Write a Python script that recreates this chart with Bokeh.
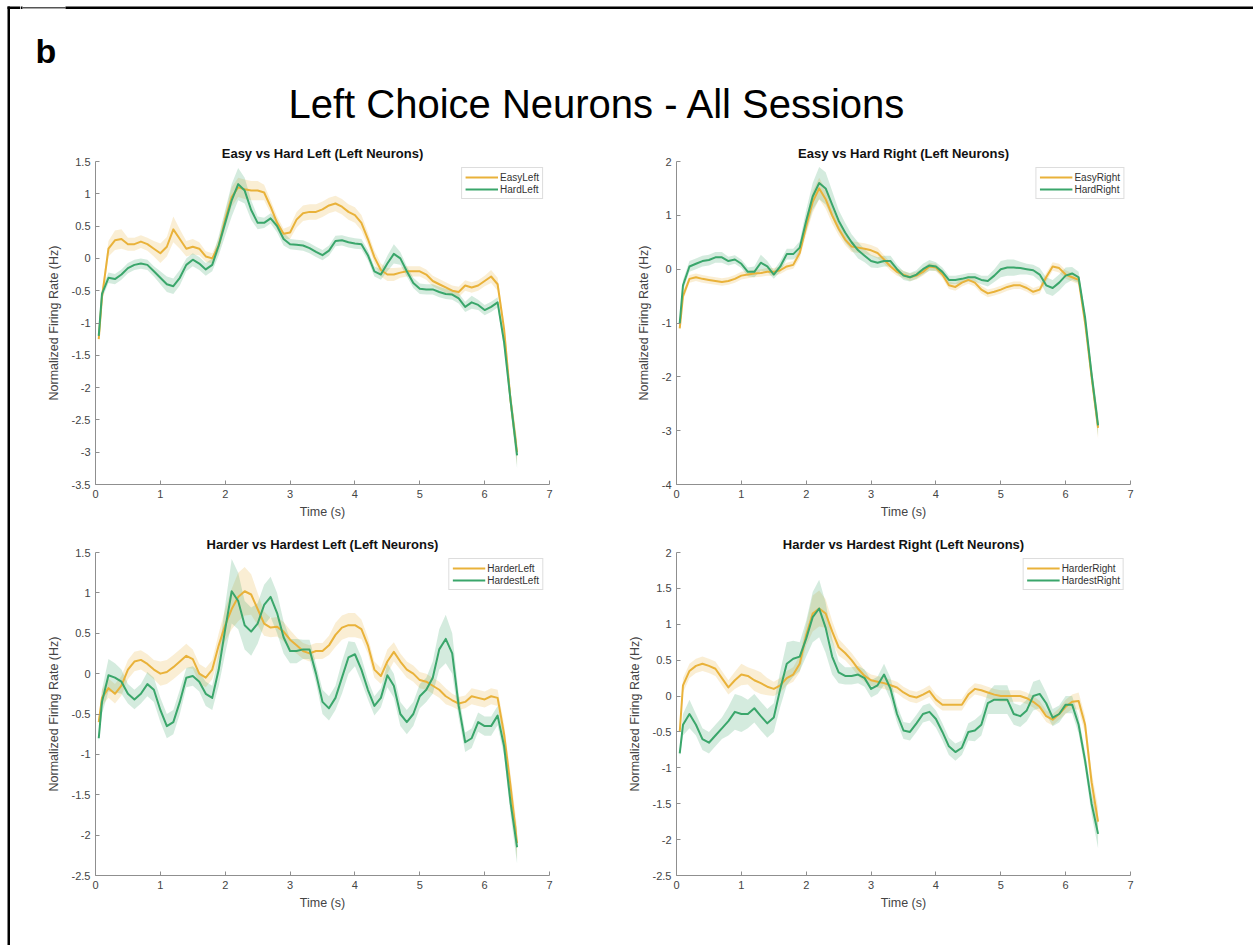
from bokeh.plotting import figure
from bokeh.models import Range1d, FixedTicker
from bokeh.layouts import column, row
from bokeh.embed import file_html
from bokeh.resources import INLINE
from bokeh.core.properties import value

FONT = "Liberation Sans"
ORANGE = "#E9B23A"
GREEN = "#3AA66B"

MAIN_TITLE = "Left Choice Neurons - All Sessions"
PANEL_LETTER = "b"
X_LABEL = "Time (s)"
Y_LABEL = "Normalized Firing Rate (Hz)"
X_TICKS = [0, 1, 2, 3, 4, 5, 6, 7]

TIME = [0.05, 0.1, 0.2, 0.3, 0.4, 0.5, 0.6, 0.7, 0.8, 0.9,
        1.0, 1.1, 1.2, 1.3, 1.4, 1.5, 1.6, 1.7, 1.8, 1.9,
        2.0, 2.1, 2.2, 2.3, 2.4, 2.5, 2.6, 2.7, 2.8, 2.9,
        3.0, 3.1, 3.2, 3.3, 3.4, 3.5, 3.6, 3.7, 3.8, 3.9,
        4.0, 4.1, 4.2, 4.3, 4.4, 4.5, 4.6, 4.7, 4.8, 4.9,
        5.0, 5.1, 5.2, 5.3, 5.4, 5.5, 5.6, 5.7, 5.8, 5.9,
        6.0, 6.1, 6.2, 6.3, 6.4, 6.5]

# ---- Panel 1: Easy vs Hard Left ----
easy_left = [-1.25, -0.6, 0.15, 0.28, 0.3, 0.22, 0.22, 0.26, 0.22, 0.15,
             0.08, 0.18, 0.45, 0.3, 0.15, 0.18, 0.15, 0.03, 0.0, 0.2,
             0.6, 0.95, 1.1, 1.07, 1.05, 1.05, 1.02, 0.8, 0.55, 0.38,
             0.4, 0.6, 0.7, 0.72, 0.72, 0.76, 0.82, 0.85, 0.8, 0.72,
             0.67, 0.55, 0.3, 0.02, -0.18, -0.25, -0.25, -0.22, -0.2, -0.2,
             -0.2, -0.25, -0.35, -0.4, -0.45, -0.5, -0.52, -0.42, -0.45, -0.42,
             -0.35, -0.28, -0.4, -1.1, -2.2, -3.0]
easy_left_sem = [0.05, 0.1, 0.12, 0.15, 0.15, 0.1, 0.1, 0.1, 0.1, 0.12,
                 0.15, 0.15, 0.2, 0.15, 0.12, 0.12, 0.1, 0.08, 0.08, 0.1,
                 0.12, 0.15, 0.15, 0.15, 0.15, 0.15, 0.12, 0.1, 0.1, 0.08,
                 0.1, 0.12, 0.12, 0.12, 0.12, 0.12, 0.12, 0.12, 0.12, 0.12,
                 0.12, 0.12, 0.1, 0.1, 0.1, 0.1, 0.1, 0.08, 0.08, 0.08,
                 0.08, 0.08, 0.08, 0.08, 0.08, 0.08, 0.08, 0.08, 0.08, 0.08,
                 0.08, 0.1, 0.1, 0.12, 0.15, 0.2]
hard_left = [-1.2, -0.55, -0.3, -0.32, -0.25, -0.15, -0.1, -0.08, -0.1, -0.2,
             -0.3, -0.4, -0.43, -0.3, -0.1, -0.02, -0.08, -0.17, -0.1, 0.2,
             0.55, 0.9, 1.15, 1.05, 0.75, 0.55, 0.55, 0.62, 0.5, 0.3,
             0.22, 0.21, 0.2, 0.16, 0.1, 0.05, 0.12, 0.27, 0.28, 0.25,
             0.23, 0.22, 0.05, -0.2, -0.25, -0.08, 0.07, 0.0, -0.2, -0.38,
             -0.47, -0.48, -0.48, -0.52, -0.55, -0.56, -0.62, -0.75, -0.68, -0.72,
             -0.8, -0.75, -0.68, -1.3, -2.2, -3.05]
hard_left_sem = [0.05, 0.08, 0.08, 0.08, 0.08, 0.08, 0.08, 0.08, 0.08, 0.08,
                 0.1, 0.12, 0.12, 0.12, 0.1, 0.1, 0.1, 0.1, 0.1, 0.15,
                 0.2, 0.25, 0.25, 0.2, 0.15, 0.1, 0.08, 0.08, 0.1, 0.1,
                 0.08, 0.08, 0.08, 0.08, 0.08, 0.08, 0.08, 0.08, 0.08, 0.08,
                 0.08, 0.08, 0.08, 0.08, 0.08, 0.12, 0.15, 0.1, 0.08, 0.08,
                 0.08, 0.08, 0.08, 0.08, 0.08, 0.08, 0.08, 0.08, 0.1, 0.08,
                 0.08, 0.08, 0.08, 0.1, 0.15, 0.2]

# ---- Panel 2: Easy vs Hard Right ----
easy_right = [-1.1, -0.5, -0.18, -0.15, -0.18, -0.2, -0.22, -0.24, -0.22, -0.18,
              -0.12, -0.1, -0.08, -0.07, -0.05, -0.05, -0.02, 0.05, 0.08, 0.3,
              0.8, 1.25, 1.5, 1.3, 1.0, 0.75, 0.55, 0.42, 0.4, 0.38,
              0.35, 0.3, 0.18, 0.05, -0.05, -0.1, -0.15, -0.12, -0.05, 0.05,
              0.03, -0.1, -0.3, -0.33, -0.25, -0.2, -0.25, -0.38, -0.45, -0.42,
              -0.38, -0.33, -0.3, -0.3, -0.35, -0.42, -0.38, -0.15, 0.05, 0.02,
              -0.1, -0.15, -0.2, -1.0, -2.0, -2.95]
easy_right_sem = [0.05, 0.08, 0.07, 0.07, 0.07, 0.07, 0.07, 0.07, 0.07, 0.07,
                  0.07, 0.07, 0.07, 0.07, 0.07, 0.07, 0.07, 0.07, 0.07, 0.1,
                  0.15, 0.2, 0.2, 0.18, 0.15, 0.12, 0.1, 0.1, 0.1, 0.1,
                  0.1, 0.1, 0.08, 0.08, 0.07, 0.07, 0.07, 0.07, 0.07, 0.07,
                  0.07, 0.07, 0.07, 0.07, 0.07, 0.07, 0.07, 0.07, 0.07, 0.07,
                  0.07, 0.07, 0.07, 0.07, 0.07, 0.07, 0.07, 0.08, 0.08, 0.08,
                  0.08, 0.08, 0.08, 0.1, 0.15, 0.2]
hard_right = [-1.0, -0.3, 0.05, 0.1, 0.15, 0.17, 0.22, 0.22, 0.15, 0.18,
              0.1, -0.05, -0.05, 0.12, 0.05, -0.1, 0.05, 0.28, 0.28, 0.4,
              0.9, 1.35, 1.6, 1.5, 1.2, 0.9, 0.68, 0.5, 0.35, 0.25,
              0.15, 0.12, 0.15, 0.15, 0.0, -0.12, -0.15, -0.1, 0.0, 0.07,
              0.05, -0.05, -0.2, -0.2, -0.18, -0.15, -0.15, -0.2, -0.22, -0.12,
              0.0, 0.03, 0.03, 0.02, 0.0, -0.02, -0.1, -0.3, -0.35, -0.25,
              -0.12, -0.08, -0.15, -0.9, -1.95, -2.9]
hard_right_sem = [0.05, 0.1, 0.1, 0.1, 0.1, 0.1, 0.1, 0.1, 0.08, 0.08,
                  0.08, 0.08, 0.1, 0.15, 0.1, 0.08, 0.1, 0.1, 0.1, 0.12,
                  0.2, 0.25, 0.3, 0.3, 0.25, 0.2, 0.18, 0.15, 0.15, 0.12,
                  0.12, 0.1, 0.1, 0.1, 0.08, 0.08, 0.08, 0.08, 0.1, 0.1,
                  0.08, 0.08, 0.08, 0.08, 0.08, 0.08, 0.08, 0.08, 0.1, 0.12,
                  0.15, 0.15, 0.15, 0.12, 0.1, 0.1, 0.12, 0.15, 0.15, 0.15,
                  0.15, 0.12, 0.1, 0.1, 0.15, 0.2]

# ---- Panel 3: Harder vs Hardest Left ----
harder_left = [-0.6, -0.3, -0.18, -0.25, -0.15, 0.05, 0.15, 0.17, 0.12, 0.05,
               0.0, 0.02, 0.08, 0.15, 0.22, 0.18, 0.0, -0.05, 0.05, 0.35,
               0.6, 0.8, 0.95, 1.02, 0.98, 0.8, 0.62, 0.57, 0.58, 0.52,
               0.42, 0.35, 0.28, 0.25, 0.28, 0.28, 0.35, 0.48, 0.57, 0.6,
               0.6, 0.55, 0.35, 0.05, -0.03, 0.15, 0.27, 0.15, 0.05, 0.0,
               -0.08, -0.1, -0.15, -0.2, -0.28, -0.33, -0.37, -0.35, -0.28, -0.3,
               -0.32, -0.28, -0.3, -0.75, -1.4, -2.1]
harder_left_sem = [0.05, 0.1, 0.12, 0.12, 0.12, 0.12, 0.12, 0.12, 0.12, 0.12,
                   0.15, 0.15, 0.15, 0.15, 0.15, 0.12, 0.12, 0.12, 0.12, 0.15,
                   0.2, 0.25, 0.3, 0.3, 0.25, 0.2, 0.15, 0.12, 0.12, 0.12,
                   0.12, 0.1, 0.1, 0.1, 0.1, 0.1, 0.12, 0.15, 0.15, 0.15,
                   0.15, 0.12, 0.1, 0.1, 0.1, 0.15, 0.12, 0.1, 0.1, 0.1,
                   0.1, 0.1, 0.1, 0.1, 0.1, 0.08, 0.08, 0.08, 0.1, 0.1,
                   0.1, 0.1, 0.1, 0.12, 0.15, 0.2]
hardest_left = [-0.8, -0.35, -0.02, -0.05, -0.1, -0.25, -0.32, -0.25, -0.13, -0.2,
                -0.45, -0.65, -0.6, -0.35, -0.05, -0.03, -0.1, -0.25, -0.3, 0.05,
                0.55, 1.02, 0.9, 0.6, 0.52, 0.62, 0.85, 0.95, 0.75, 0.45,
                0.28, 0.28, 0.3, 0.3, 0.0, -0.35, -0.43, -0.3, -0.05, 0.2,
                0.24, 0.05, -0.2, -0.4, -0.3, -0.02, -0.15, -0.5, -0.6, -0.5,
                -0.28, -0.2, -0.05, 0.3, 0.43, 0.25, -0.4, -0.85, -0.8, -0.6,
                -0.65, -0.65, -0.52, -0.9, -1.6, -2.15]
hardest_left_sem = [0.05, 0.15, 0.2, 0.18, 0.15, 0.12, 0.12, 0.12, 0.15, 0.15,
                    0.15, 0.15, 0.15, 0.15, 0.12, 0.12, 0.12, 0.15, 0.15, 0.2,
                    0.3, 0.4, 0.35, 0.3, 0.3, 0.25, 0.25, 0.25, 0.25, 0.2,
                    0.15, 0.15, 0.12, 0.12, 0.12, 0.15, 0.15, 0.15, 0.2, 0.2,
                    0.15, 0.15, 0.12, 0.12, 0.12, 0.15, 0.15, 0.15, 0.15, 0.15,
                    0.15, 0.15, 0.2, 0.25, 0.3, 0.25, 0.15, 0.12, 0.12, 0.12,
                    0.12, 0.12, 0.12, 0.12, 0.15, 0.2]

# ---- Panel 4: Harder vs Hardest Right ----
harder_right = [-0.5, 0.15, 0.35, 0.42, 0.45, 0.42, 0.38, 0.25, 0.12, 0.22,
                0.3, 0.28, 0.22, 0.18, 0.13, 0.1, 0.15, 0.25, 0.3, 0.45,
                0.85, 1.15, 1.22, 1.15, 0.9, 0.68, 0.6, 0.5, 0.38, 0.28,
                0.22, 0.2, 0.18, 0.15, 0.12, 0.05, 0.0, -0.02, 0.02, 0.07,
                -0.05, -0.12, -0.12, -0.12, -0.12, 0.02, 0.1, 0.08, 0.05, 0.02,
                0.0, 0.0, 0.0, 0.0, -0.03, -0.08, -0.15, -0.28, -0.33, -0.25,
                -0.15, -0.08, -0.07, -0.4, -1.2, -1.75]
harder_right_sem = [0.05, 0.1, 0.1, 0.1, 0.1, 0.1, 0.1, 0.1, 0.1, 0.12,
                    0.15, 0.12, 0.15, 0.15, 0.12, 0.1, 0.1, 0.1, 0.1, 0.12,
                    0.15, 0.25, 0.25, 0.2, 0.15, 0.12, 0.1, 0.1, 0.1, 0.08,
                    0.08, 0.08, 0.08, 0.08, 0.08, 0.08, 0.08, 0.08, 0.08, 0.08,
                    0.08, 0.08, 0.08, 0.08, 0.08, 0.08, 0.08, 0.08, 0.08, 0.08,
                    0.08, 0.08, 0.08, 0.08, 0.08, 0.08, 0.08, 0.08, 0.08, 0.08,
                    0.1, 0.1, 0.12, 0.12, 0.15, 0.2]
hardest_right = [-0.8, -0.4, -0.25, -0.4, -0.6, -0.65, -0.55, -0.45, -0.35, -0.22,
                 -0.25, -0.25, -0.17, -0.28, -0.38, -0.3, 0.1, 0.45, 0.52, 0.55,
                 0.8, 1.1, 1.22, 0.95, 0.55, 0.33, 0.28, 0.28, 0.3, 0.25,
                 0.1, 0.15, 0.3, 0.1, -0.25, -0.48, -0.5, -0.38, -0.25, -0.22,
                 -0.32, -0.5, -0.7, -0.78, -0.72, -0.5, -0.48, -0.4, -0.1, -0.05,
                 -0.05, -0.05, -0.25, -0.28, -0.2, 0.0, 0.03, -0.1, -0.3, -0.25,
                 -0.12, -0.12, -0.4, -0.9, -1.5, -1.92]
hardest_right_sem = [0.05, 0.15, 0.2, 0.15, 0.15, 0.15, 0.15, 0.15, 0.2, 0.25,
                     0.25, 0.2, 0.2, 0.2, 0.2, 0.2, 0.25, 0.3, 0.25, 0.2,
                     0.25, 0.35, 0.4, 0.35, 0.25, 0.15, 0.12, 0.12, 0.12, 0.12,
                     0.12, 0.12, 0.15, 0.15, 0.12, 0.12, 0.12, 0.12, 0.12, 0.12,
                     0.12, 0.12, 0.12, 0.12, 0.1, 0.12, 0.15, 0.15, 0.15, 0.2,
                     0.2, 0.2, 0.15, 0.15, 0.15, 0.2, 0.2, 0.15, 0.12, 0.12,
                     0.12, 0.12, 0.12, 0.12, 0.15, 0.2]

Y_TICKS_1 = [-3.5, -3, -2.5, -2, -1.5, -1, -0.5, 0, 0.5, 1, 1.5]
Y_TICKS_2 = [-4, -3, -2, -1, 0, 1, 2]
Y_TICKS_3 = [-2.5, -2, -1.5, -1, -0.5, 0, 0.5, 1, 1.5]
Y_TICKS_4 = [-2.5, -2, -1.5, -1, -0.5, 0, 0.5, 1, 1.5, 2]

PANELS = [
    dict(title="Easy vs Hard Left (Left Neurons)", names=("EasyLeft", "HardLeft"),
         ys=(easy_left, hard_left), sems=(easy_left_sem, hard_left_sem),
         yr=(-3.5, 1.5), yt=Y_TICKS_1),
    dict(title="Easy vs Hard Right (Left Neurons)", names=("EasyRight", "HardRight"),
         ys=(easy_right, hard_right), sems=(easy_right_sem, hard_right_sem),
         yr=(-4, 2), yt=Y_TICKS_2),
    dict(title="Harder vs Hardest Left (Left Neurons)", names=("HarderLeft", "HardestLeft"),
         ys=(harder_left, hardest_left), sems=(harder_left_sem, hardest_left_sem),
         yr=(-2.5, 1.5), yt=Y_TICKS_3),
    dict(title="Harder vs Hardest Right (Left Neurons)", names=("HarderRight", "HardestRight"),
         ys=(harder_right, hardest_right), sems=(harder_right_sem, hardest_right_sem),
         yr=(-2.5, 2), yt=Y_TICKS_4),
]

for cfg in PANELS:
    for arr in cfg["ys"] + cfg["sems"]:
        assert len(arr) == len(TIME), (cfg["title"], len(arr))


def fmt(v):
    return "%g" % v


def make_panel(cfg, width, height, mbl, mbr, mbt, mbb):
    p = figure(width=width, height=height, x_range=Range1d(0, 7),
               y_range=Range1d(*cfg["yr"]), output_backend="svg",
               toolbar_location=None, min_border_left=mbl, min_border_right=mbr,
               min_border_top=mbt, min_border_bottom=mbb)
    p.title.text = cfg["title"]
    p.title.align = "center"
    p.title.text_font = FONT
    p.title.text_font_size = "13px"
    p.title.text_font_style = "bold"
    p.title.text_color = "#111111"
    p.title.standoff = 2
    p.title.offset = 0
    p.grid.visible = False
    p.outline_line_color = None
    p.background_fill_color = "white"
    p.border_fill_color = "white"

    colors = (ORANGE, GREEN)
    for ys, sem, c in zip(cfg["ys"], cfg["sems"], colors):
        lo = [y - s for y, s in zip(ys, sem)]
        hi = [y + s for y, s in zip(ys, sem)]
        p.varea(x=TIME, y1=lo, y2=hi, fill_color=c, fill_alpha=0.22)
    for ys, name, c in zip(cfg["ys"], cfg["names"], colors):
        p.line(TIME, ys, line_color=c, line_width=2, legend_label=name,
               line_join="round")

    p.xaxis.ticker = FixedTicker(ticks=X_TICKS)
    p.yaxis.ticker = FixedTicker(ticks=cfg["yt"])
    p.xaxis.major_label_overrides = {float(v): fmt(v) for v in X_TICKS}
    p.yaxis.major_label_overrides = {float(v): fmt(v) for v in cfg["yt"]}
    p.xaxis.axis_label = X_LABEL
    p.yaxis.axis_label = Y_LABEL
    for ax in (p.xaxis[0], p.yaxis[0]):
        ax.axis_line_color = "#8f8f8f"
        ax.major_tick_line_color = "#8f8f8f"
        ax.major_tick_in = 4
        ax.major_tick_out = 0
        ax.minor_tick_line_color = None
        ax.major_label_text_font = FONT
        ax.major_label_text_font_size = "11px"
        ax.major_label_text_color = "#444444"
        ax.axis_label_text_font = FONT
        ax.axis_label_text_font_size = "12.5px"
        ax.axis_label_text_font_style = "normal"
        ax.axis_label_text_color = "#444444"
        ax.major_label_standoff = 5
    p.xaxis[0].axis_label_standoff = 4
    p.yaxis[0].axis_label_standoff = 8

    lg = p.legend[0]
    lg.location = "top_right"
    lg.margin = 6
    lg.padding = 3
    lg.spacing = 0
    lg.label_text_font = FONT
    lg.label_text_font_size = "10px"
    lg.label_text_color = "#333333"
    lg.glyph_width = 33
    lg.glyph_height = 12
    lg.label_height = 12
    lg.label_standoff = 2
    lg.border_line_color = "#bbbbbb"
    lg.border_line_width = 1
    lg.background_fill_alpha = 1.0
    return p


f1 = make_panel(PANELS[0], 600, 390, 75, 71, 21, 46)
f2 = make_panel(PANELS[1], 633, 390, 56, 123, 21, 46)
f3 = make_panel(PANELS[2], 600, 415, 75, 71, 22, 70)
f4 = make_panel(PANELS[3], 633, 415, 56, 123, 22, 70)

# left strip: page frame (left edge and start of top edge)
bar = figure(width=20, height=945, x_range=Range1d(0, 20), y_range=Range1d(945, 0),
             output_backend="svg", toolbar_location=None, min_border=0,
             x_axis_type=None, y_axis_type=None)
bar.outline_line_color = None
bar.grid.visible = False
bar.quad(left=[7, 7], right=[9.5, 20], top=[6, 6], bottom=[945, 8.5],
         fill_color="black", line_color=None)

# header with panel letter, main title and rest of top edge
hdr = figure(width=1233, height=140, x_range=Range1d(20, 1253), y_range=Range1d(140, 0),
             output_backend="svg", toolbar_location=None, min_border=0,
             x_axis_type=None, y_axis_type=None)
hdr.outline_line_color = None
hdr.grid.visible = False
hdr.quad(left=[20, 22, 65], right=[22, 65, 1253], top=[6, 6.5, 6], bottom=[8.5, 8, 8.5],
         fill_color=["black", "#555555", "black"], line_color=None)
hdr.text(x=[35], y=[50], text=[PANEL_LETTER], text_font=value(FONT),
         text_font_size="34px", text_font_style="bold", text_color="black",
         text_baseline="alphabetic", text_align="left")
hdr.text(x=[597], y=[103], text=[MAIN_TITLE], text_font=value(FONT),
         text_font_size="40px", text_color="black",
         text_baseline="middle", text_align="center")

layout = row(bar, column(hdr, row(f1, f2), row(f3, f4)))

open("out.html", "w").write(file_html(layout, INLINE))
